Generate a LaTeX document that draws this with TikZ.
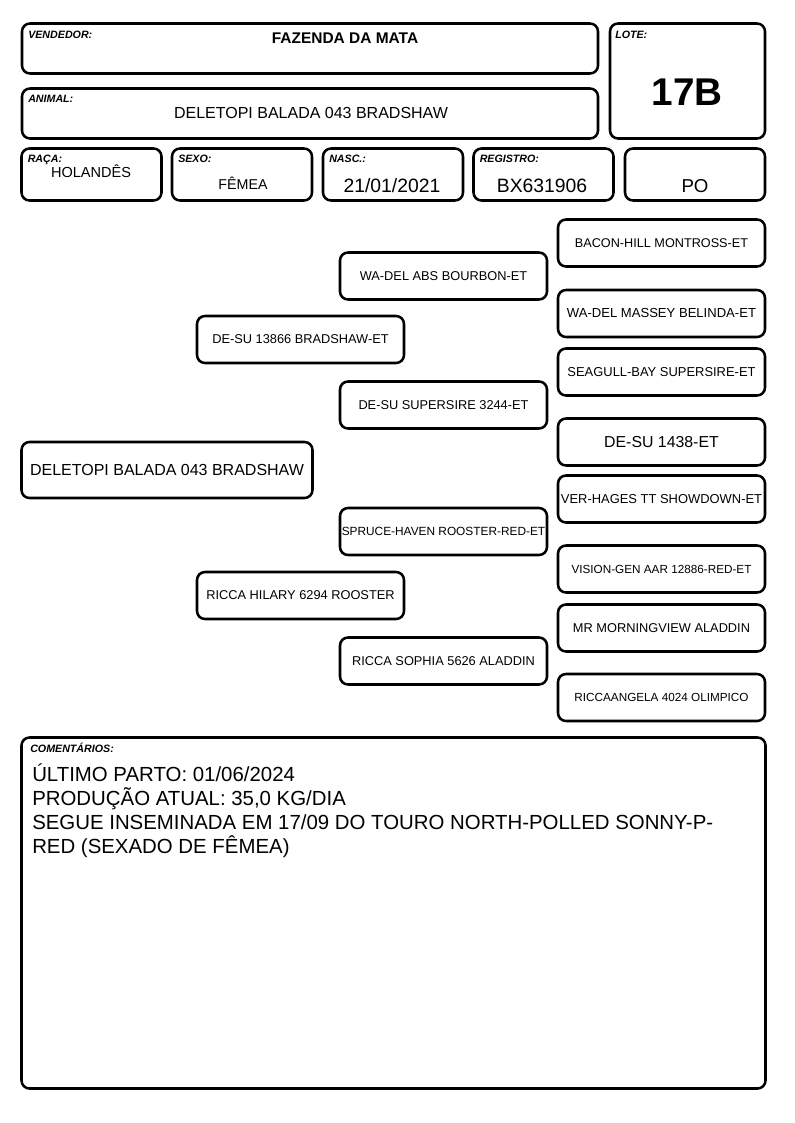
\documentclass[tikz,border=0pt]{standalone}
\usepackage{fontspec}
\setmainfont{Liberation Sans}
\usetikzlibrary{positioning}

\def\px{0.75pt}
\tikzset{
  box/.style={draw, line width=1.9pt, rounded corners=6pt, inner sep=0pt},
  tag/.style={font=\bfseries\itshape\fontsize{8}{9}\selectfont, anchor=base west, inner sep=0pt},
  val/.style={anchor=base, inner sep=0pt},
  ped/.style={box, minimum width=207*\px, minimum height=47*\px, font=\fontsize{9.6}{11}\selectfont},
}

\begin{document}
\begin{tikzpicture}[x=0.75pt,y=-0.75pt]
\useasboundingbox (0,0) rectangle (794,1123);
% header boxes
\node[box,minimum width=576*\px,minimum height=50*\px] (vend) at (310,48.5) {};
\node[box,minimum width=576*\px,minimum height=50*\px] (anim) at (310,113.5) {};
\node[box,minimum width=155*\px,minimum height=115*\px] (lote) at (687.5,81) {};
\node[tag] (vendtag) at (28,39) {VENDEDOR:};
\node[val,font=\bfseries\fontsize{11.6}{13}\selectfont] (vendval) at (345,44) {FAZENDA DA MATA};
\node[tag] (animtag) at (28,103) {ANIMAL:};
\node[val,font=\fontsize{12}{14}\selectfont] (animval) at (311,119) {DELETOPI BALADA 043 BRADSHAW};
\node[tag] (lotetag) at (615,39) {LOTE:};
\node[val,font=\bfseries\fontsize{29}{32}\selectfont] (loteval) at (687,106) {17B};
% data row
\foreach \nm/\xx/\lbl in {raca/91.5/RAÇA:,sexo/242/SEXO:,nasc/393/NASC.:,reg/543.5/REGISTRO:,po/695/}
  {\node[box,minimum width=140*\px,minimum height=52*\px] (\nm) at (\xx,174.5) {};
   \node[tag] (\nm tag) at (\xx-64,163) {\lbl};}
\node[val,font=\fontsize{10.9}{13}\selectfont] (racaval) at (91,178) {HOLANDÊS};
\node[val,font=\fontsize{10.7}{13}\selectfont] (sexoval) at (243,190) {FÊMEA};
\node[val,font=\fontsize{14.5}{17}\selectfont] (nascval) at (392,193) {21/01/2021};
\node[val,font=\fontsize{14.5}{17}\selectfont] (regval) at (542,193) {BX631906};
\node[val,font=\fontsize{14}{17}\selectfont] (poval) at (695,193) {PO};
% pedigree
\node[box,minimum width=291*\px,minimum height=56*\px,font=\fontsize{12}{14}\selectfont] (animal) at (167,470) {DELETOPI BALADA 043 BRADSHAW};
\node[ped] (sire) at (300.5,339.5) {DE-SU 13866 BRADSHAW-ET};
\node[ped] (dam) at (300.5,595.5) {RICCA HILARY 6294 ROOSTER};
\node[ped] (ss) at (443.5,276) {WA-DEL ABS BOURBON-ET};
\node[ped] (sd) at (443.5,405) {DE-SU SUPERSIRE 3244-ET};
\node[ped,font=\fontsize{8.9}{10}\selectfont] (ds) at (443.5,531.5) {SPRUCE-HAVEN ROOSTER-RED-ET};
\node[ped] (dd) at (443.5,661) {RICCA SOPHIA 5626 ALADDIN};
\foreach \nm/\yy/\fs/\txt in {sss/243/9.5/BACON-HILL MONTROSS-ET,
    ssd/313.5/9.8/WA-DEL MASSEY BELINDA-ET,
    sds/372/9.7/SEAGULL-BAY SUPERSIRE-ET,
    sdd/442/11.9/DE-SU 1438-ET,
    dss/499/9.7/VER-HAGES TT SHOWDOWN-ET,
    dsd/569/8.8/VISION-GEN AAR 12886-RED-ET,
    dds/628/9.6/MR MORNINGVIEW ALADDIN,
    ddd/697.5/8.8/RICCAANGELA 4024 OLIMPICO}
  {\node[ped,font=\fontsize{\fs}{12}\selectfont] (\nm) at (661.5,\yy) {\txt};}
% comments
\node[box,minimum width=744*\px,minimum height=351*\px] (coment) at (393.5,913) {};
\node[tag] (comenttag) at (30,752) {COMENTÁRIOS:};
\node[anchor=base west,inner sep=0pt,align=left,font=\fontsize{15.3}{18}\selectfont] (comentval) at (32,853)
  {ÚLTIMO PARTO: 01/06/2024\\PRODUÇÃO ATUAL: 35,0 KG/DIA\\SEGUE INSEMINADA EM 17/09 DO TOURO NORTH-POLLED SONNY-P-\\RED (SEXADO DE FÊMEA)};
\end{tikzpicture}
\end{document}
